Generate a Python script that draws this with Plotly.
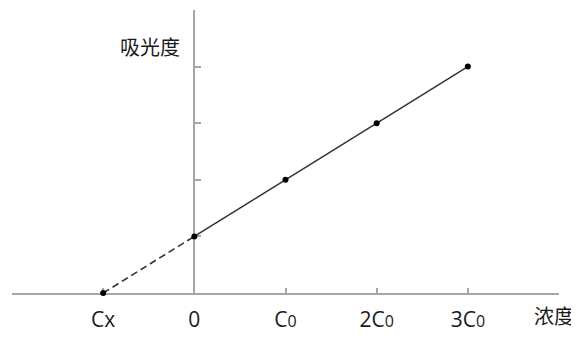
import plotly.graph_objects as go

# data (concentration in units of C0, absorbance in arbitrary units)
conc = [0, 1, 2, 3]
absorb = [1, 2, 3, 4]
extrap_x = [-1, 0]
extrap_y = [0, 1]
tick_vals = [-1, 0, 1, 2, 3]
tick_text = ["Cx", "0", "C<span style='font-size:16px'>0</span>",
             "2C<span style='font-size:16px'>0</span>",
             "3C<span style='font-size:16px'>0</span>"]
end_ticks = [-2, 4]
y_ticks = [1, 2, 3, 4, 5]

FONT = "Open Sans, Noto Sans CJK SC, sans-serif"
CJK = "Noto Sans CJK SC, Microsoft YaHei, sans-serif"
AX = "#a6a6a6"
TXT = "#1a1a1a"

fig = go.Figure()
fig.add_trace(go.Scatter(x=extrap_x, y=extrap_y, mode="lines",
                         line=dict(color="#333333", width=1.6, dash="7px,4px")))
fig.add_trace(go.Scatter(x=conc, y=absorb, mode="lines",
                         line=dict(color="#333333", width=1.5)))
fig.add_trace(go.Scatter(x=[extrap_x[0]] + conc, y=[extrap_y[0]] + absorb, mode="markers",
                         marker=dict(color="black", size=6), cliponaxis=False))

# the page body has an 8px margin, so shrink the figure by 8px on each of left/top
fig.update_layout(
    width=571, height=330,
    margin=dict(l=4, r=20, t=2, b=45),
    paper_bgcolor="white", plot_bgcolor="white",
    showlegend=False,
    font=dict(family=FONT, size=21, color=TXT),
    xaxis=dict(range=[-2, 4], showgrid=False, zeroline=True, zerolinecolor=AX,
               zerolinewidth=1.5, showline=True, linecolor=AX, linewidth=1.5,
               ticks="inside", ticklen=5, tickcolor=AX, tickwidth=1.5,
               tickvals=tick_vals + end_ticks,
               ticktext=tick_text + ["", ""],
               ticklabelstandoff=7, layer="below traces"),
    yaxis=dict(range=[0, 5], showgrid=False, zeroline=False, showline=False,
               showticklabels=False, ticks=""),
    yaxis2=dict(range=[0, 5], overlaying="y", anchor="free", position=1/3,
                showgrid=False, zeroline=False, showline=True, linecolor=AX,
                linewidth=1.5, ticks="inside", ticklen=6, tickcolor=AX,
                tickwidth=1.5, tickvals=y_ticks, showticklabels=False,
                layer="below traces"),
)
# invisible trace so yaxis2 is drawn
fig.add_trace(go.Scatter(x=[0], y=[0], yaxis="y2", mode="markers",
                         marker=dict(opacity=0), hoverinfo="skip"))

fig.add_annotation(x=4, y=0, xref="x", yref="y", text="浓度", showarrow=False,
                   xanchor="center", yanchor="top", xshift=-5, yshift=-6,
                   font=dict(size=20, family=CJK, color=TXT))
fig.add_annotation(x=0, y=4.35, xref="x", yref="y", text="吸光度", showarrow=False,
                   xanchor="right", yanchor="middle", xshift=-12,
                   font=dict(size=20, family=CJK, color=TXT))

fig.write_html("out.html")
